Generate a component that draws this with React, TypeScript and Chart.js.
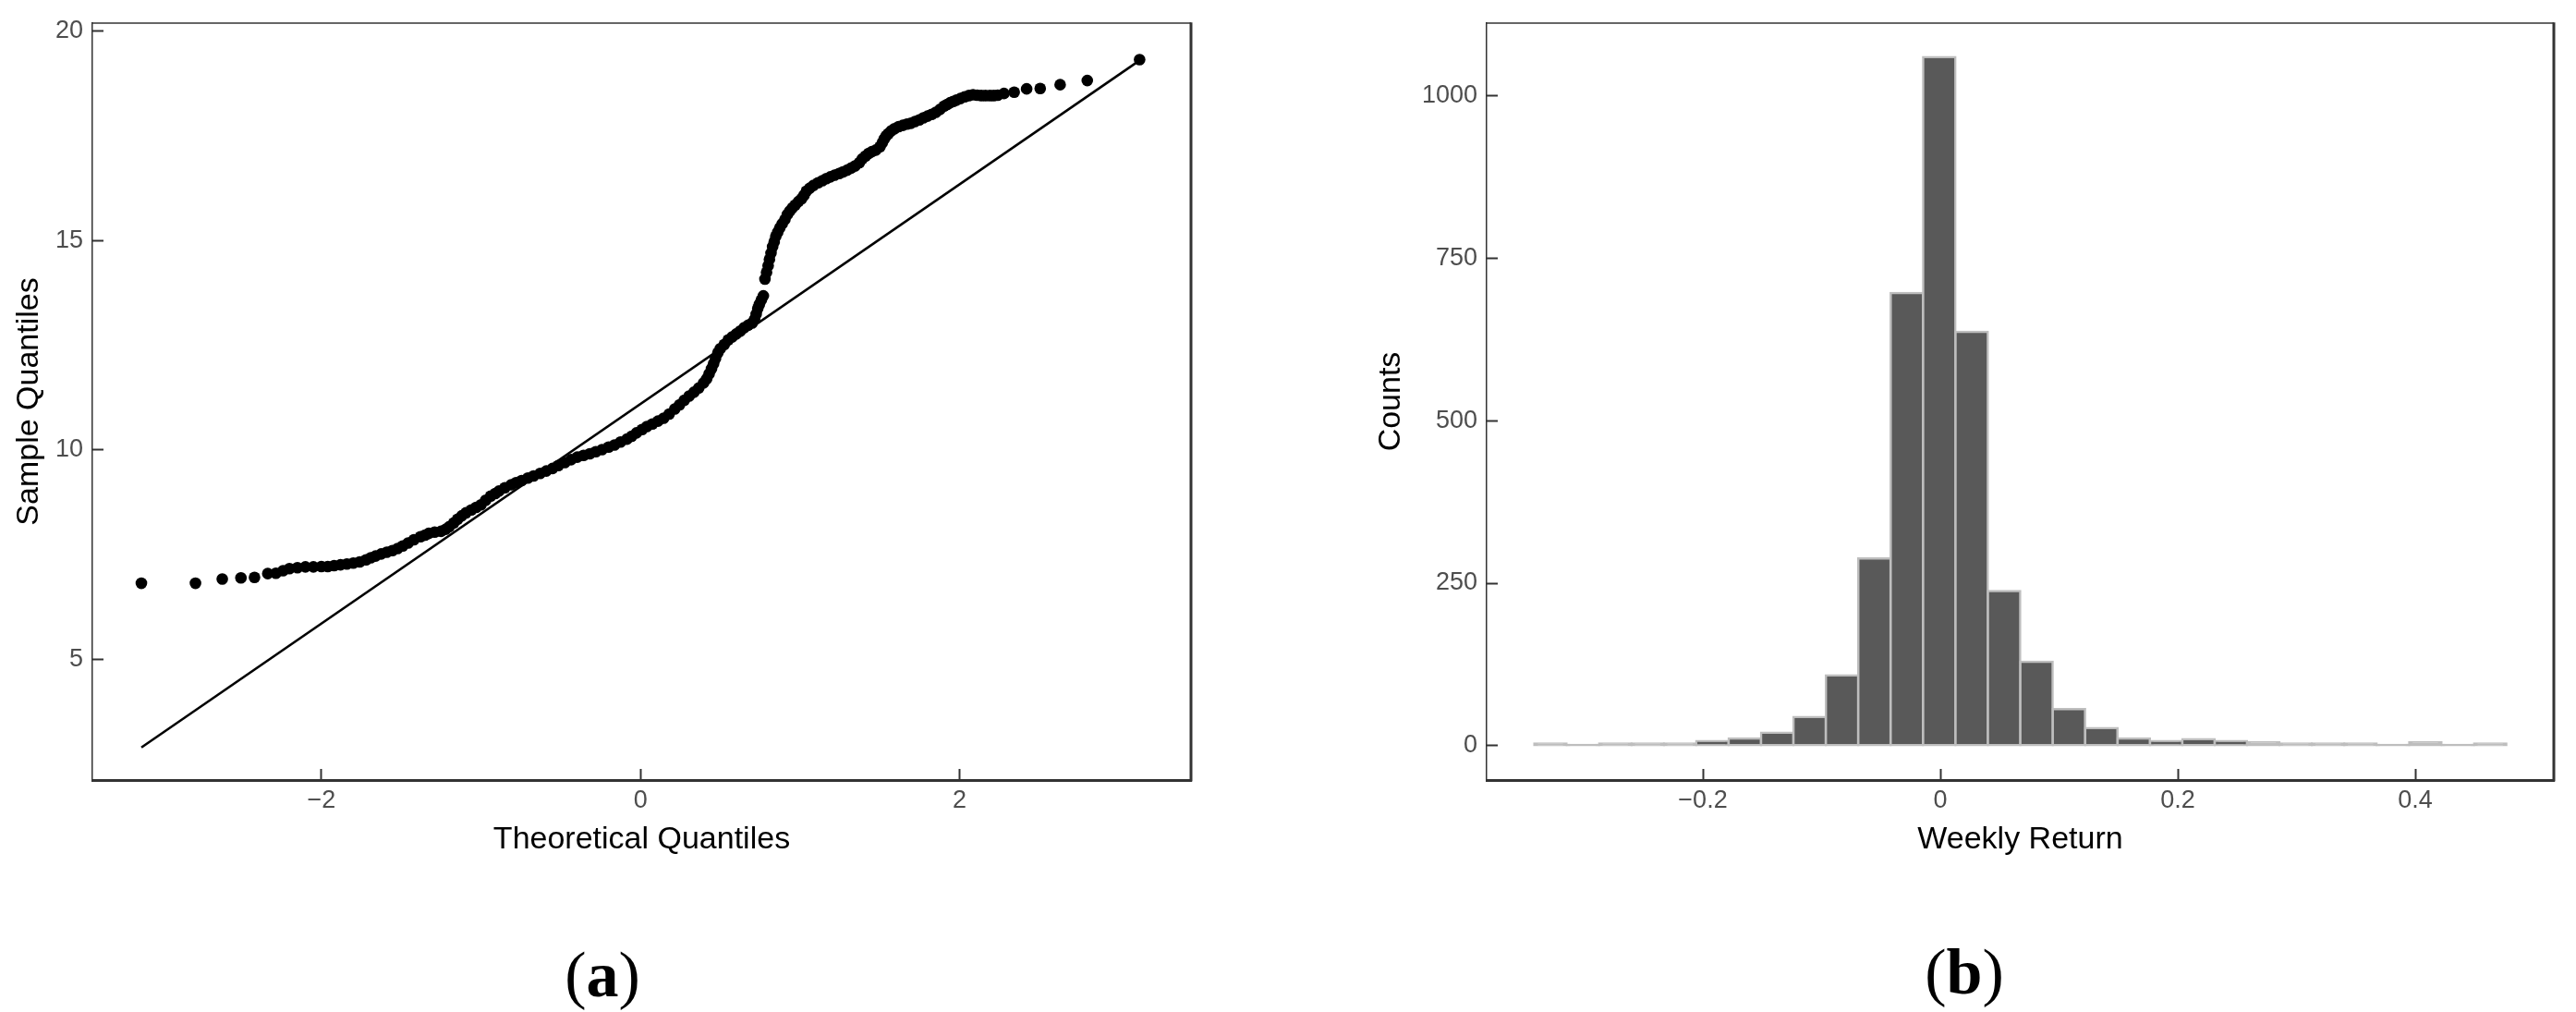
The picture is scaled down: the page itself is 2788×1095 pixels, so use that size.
import React, { useEffect, useRef } from 'react';
import { Chart, registerables } from 'chart.js';

Chart.register(...registerables);

// ---------- (a) Normal Q-Q plot ----------
const theoreticalQuantiles = [
  -3.128, -2.789, -2.621, -2.504, -2.419, -2.336, -2.285, -2.240, -2.200, -2.150,
  -2.100, -2.050, -2.000, -1.960, -1.920, -1.880, -1.840, -1.800, -1.760, -1.720,
  -1.690, -1.660, -1.625, -1.590, -1.555, -1.522, -1.490, -1.456, -1.420, -1.379,
  -1.350, -1.327, -1.290, -1.250, -1.220, -1.198, -1.170, -1.146, -1.120, -1.094,
  -1.060, -1.030, -1.000, -0.970, -0.939, -0.910, -0.887, -0.850, -0.810, -0.780,
  -0.745, -0.706, -0.670, -0.629, -0.590, -0.551, -0.515, -0.474, -0.435, -0.396,
  -0.357, -0.318, -0.280, -0.241, -0.200, -0.163, -0.125, -0.085, -0.055, -0.025,
  0.010, 0.040, 0.075, 0.110, 0.145, 0.180, 0.215, 0.245, 0.275, 0.305,
  0.335, 0.365, 0.395, 0.415, 0.430, 0.445, 0.458, 0.470, 0.485, 0.500,
  0.525, 0.550, 0.575, 0.600, 0.625, 0.650, 0.675, 0.700, 0.715, 0.725,
  0.735, 0.745, 0.757, 0.770, 0.780, 0.790, 0.800, 0.808, 0.818, 0.828,
  0.838, 0.848, 0.860, 0.873, 0.888, 0.905, 0.920, 0.935, 0.952, 0.970,
  0.990, 1.010, 1.025, 1.040, 1.061, 1.085, 1.113, 1.140, 1.165, 1.190,
  1.217, 1.245, 1.269, 1.295, 1.320, 1.345, 1.372, 1.390, 1.411, 1.430,
  1.450, 1.475, 1.501, 1.515, 1.527, 1.540, 1.553, 1.572, 1.592, 1.618,
  1.644, 1.670, 1.695, 1.720, 1.747, 1.773, 1.799, 1.825, 1.851, 1.877,
  1.903, 1.922, 1.941, 1.960, 1.980, 2.005, 2.032, 2.058, 2.084, 2.110,
  2.136, 2.162, 2.190, 2.214, 2.239, 2.278, 2.342, 2.420, 2.505, 2.630,
  2.800, 3.128,
];

const sampleQuantiles = [
  6.82, 6.82, 6.92, 6.95, 6.96, 7.05, 7.06, 7.12, 7.17, 7.19,
  7.21, 7.21, 7.22, 7.22, 7.24, 7.26, 7.28, 7.30, 7.33, 7.38,
  7.43, 7.47, 7.52, 7.56, 7.60, 7.65, 7.71, 7.78, 7.86, 7.93,
  7.97, 8.01, 8.04, 8.06, 8.11, 8.17, 8.26, 8.35, 8.43, 8.50,
  8.57, 8.63, 8.69, 8.80, 8.90, 8.96, 9.02, 9.10, 9.17, 9.22,
  9.27, 9.33, 9.38, 9.44, 9.50, 9.56, 9.63, 9.70, 9.77, 9.83,
  9.87, 9.91, 9.96, 10.01, 10.07, 10.12, 10.19, 10.26, 10.33, 10.41,
  10.49, 10.56, 10.62, 10.69, 10.76, 10.86, 10.98, 11.08, 11.19, 11.29,
  11.38, 11.48, 11.60, 11.70, 11.82, 11.94, 12.06, 12.18, 12.32, 12.42,
  12.52, 12.63, 12.70, 12.77, 12.84, 12.92, 12.98, 13.03, 13.12, 13.24,
  13.38, 13.48, 13.58, 13.68, 14.08, 14.24, 14.40, 14.55, 14.70, 14.85,
  14.97, 15.10, 15.20, 15.30, 15.40, 15.50, 15.62, 15.70, 15.78, 15.85,
  15.93, 16.00, 16.08, 16.18, 16.25, 16.32, 16.38, 16.43, 16.48, 16.52,
  16.56, 16.60, 16.64, 16.68, 16.73, 16.78, 16.86, 16.95, 17.02, 17.08,
  17.12, 17.16, 17.24, 17.33, 17.42, 17.50, 17.55, 17.62, 17.67, 17.72,
  17.75, 17.78, 17.80, 17.84, 17.88, 17.93, 17.97, 18.01, 18.06, 18.13,
  18.21, 18.25, 18.29, 18.32, 18.35, 18.39, 18.43, 18.46, 18.48, 18.47,
  18.46, 18.46, 18.46, 18.46, 18.47, 18.51, 18.54, 18.62, 18.63, 18.72,
  18.82, 19.32,
];

const qqLineX = [-3.128, 3.128];
const qqLineY = [2.9, 19.3];
const qqXTicks = [-2, 0, 2];
const qqYTicks = [5, 10, 15, 20];

// ---------- (b) Histogram of weekly returns ----------
const binCenters = [
  -0.3284, -0.3011, -0.2738, -0.2465, -0.2192, -0.192, -0.1647, -0.1374, -0.1101, -0.0828,
  -0.0555, -0.0282, -0.0009, 0.0264, 0.0537, 0.081, 0.1083, 0.1356, 0.1629, 0.1902,
  0.2174, 0.2447, 0.272, 0.2993, 0.3266, 0.3539, 0.3812, 0.4085, 0.4358, 0.4631,
];
const binCounts = [
  3, 1, 3, 3, 3, 7, 11, 20, 44, 108,
  288, 697, 1060, 637, 238, 129, 56, 27, 11, 7,
  10, 7, 5, 3, 3, 3, 1, 5, 1, 3,
];
const histXTicks = [-0.2, 0, 0.2, 0.4];
const histYTicks = [0, 250, 500, 750, 1000];

// ---------- styling helpers ----------
const FONT = "'Liberation Sans', Arial, Helvetica, sans-serif";
const fmt = (v: number) => (v < 0 ? '\u2212' : '') + String(Math.abs(v));

const boxPlugin = {
  id: 'panelBox',
  afterDraw(chart: any) {
    const { ctx, chartArea: a } = chart;
    ctx.save();
    ctx.strokeStyle = '#333333';
    ctx.lineWidth = 1.5;
    ctx.beginPath();
    ctx.moveTo(a.left - 0.75, a.top);
    ctx.lineTo(a.right, a.top);
    ctx.stroke();
    ctx.lineWidth = 3;
    ctx.beginPath();
    ctx.moveTo(a.right, a.top - 0.75);
    ctx.lineTo(a.right, a.bottom + 1.5);
    ctx.stroke();
    ctx.restore();
  },
};

function xAxis(min: number, max: number, ticks: number[], title: string) {
  return {
    type: 'linear',
    position: 'bottom',
    min,
    max,
    offset: false,
    grid: {
      display: true,
      drawOnChartArea: false,
      drawTicks: true,
      tickLength: -12,
      tickColor: '#333333',
      tickWidth: 2,
      offset: false,
    },
    border: { display: true, color: '#333333', width: 3 },
    ticks: {
      padding: 18.3,
      color: '#4d4d4d',
      font: { family: FONT, size: 27 },
      maxRotation: 0,
      autoSkip: false,
      callback: (v: any) => fmt(Number(v)),
    },
    title: {
      display: true,
      text: title,
      color: '#000000',
      font: { family: FONT, size: 34 },
      padding: { top: 0, bottom: 31 },
    },
    afterBuildTicks: (s: any) => {
      s.ticks = ticks.map((value) => ({ value }));
    },
    afterFit: (s: any) => {
      s.height = 116;
      s.paddingLeft = 0;
      s.paddingRight = 0;
    },
  };
}

function yAxis(min: number, max: number, ticks: number[], title: string, width: number, titlePad: number) {
  return {
    type: 'linear',
    position: 'left',
    min,
    max,
    grid: {
      display: true,
      drawOnChartArea: false,
      drawTicks: true,
      tickLength: -12,
      tickColor: '#333333',
      tickWidth: 2,
    },
    border: { display: true, color: '#333333', width: 1.5 },
    ticks: {
      padding: 22,
      color: '#4d4d4d',
      font: { family: FONT, size: 27 },
      autoSkip: false,
      callback: (v: any) => fmt(Number(v)),
    },
    title: {
      display: true,
      text: title,
      color: '#000000',
      font: { family: FONT, size: 34 },
      padding: { top: titlePad, bottom: 0 },
    },
    afterBuildTicks: (s: any) => {
      s.ticks = ticks.map((value) => ({ value }));
    },
    afterFit: (s: any) => {
      s.width = width;
      s.paddingTop = 0;
      s.paddingBottom = 0;
    },
  };
}

export default function App() {
  const qqRef = useRef<HTMLCanvasElement>(null);
  const histRef = useRef<HTMLCanvasElement>(null);

  useEffect(() => {
    const n = Math.min(theoreticalQuantiles.length, sampleQuantiles.length);
    const qqPoints = [];
    for (let i = 0; i < n; i++) qqPoints.push({ x: theoreticalQuantiles[i], y: sampleQuantiles[i] });
    const linePoints = qqLineX.map((x, i) => ({ x, y: qqLineY[i] }));

    const qq = new Chart(qqRef.current as HTMLCanvasElement, {
      type: 'scatter',
      data: {
        datasets: [
          {
            type: 'line',
            data: linePoints,
            borderColor: '#000000',
            borderWidth: 2.6,
            pointRadius: 0,
            showLine: true,
            fill: false,
            order: 0,
          } as any,
          {
            type: 'scatter',
            data: qqPoints,
            backgroundColor: '#000000',
            borderWidth: 0,
            pointRadius: 6.3,
            pointHoverRadius: 6.3,
            order: 1,
          } as any,
        ],
      },
      options: {
        animation: false,
        responsive: false,
        devicePixelRatio: 1,
        events: [],
        layout: { padding: { left: 0, top: 25, right: 51, bottom: 0 } },
        plugins: { legend: { display: false }, tooltip: { enabled: false } },
        scales: {
          x: xAxis(-3.435, 3.45, qqXTicks, 'Theoretical Quantiles'),
          y: yAxis(2.123, 20.19, qqYTicks, 'Sample Quantiles', 100, 10.8),
        } as any,
      },
      plugins: [boxPlugin],
    } as any);

    const histData = binCenters.map((x, i) => ({ x, y: binCounts[i] }));
    const hist = new Chart(histRef.current as HTMLCanvasElement, {
      type: 'bar',
      data: {
        datasets: [
          {
            data: histData,
            backgroundColor: (c: any) => (c.raw && c.raw.y < 6 ? '#bebebe' : '#595959'),
            borderColor: '#bebebe',
            borderWidth: 2.5,
            borderSkipped: false,
            inflateAmount: 1.25,
            barPercentage: 1,
            categoryPercentage: 1,
            grouped: false,
          } as any,
        ],
      },
      options: {
        animation: false,
        responsive: false,
        devicePixelRatio: 1,
        events: [],
        layout: { padding: { left: 0, top: 25, right: 24, bottom: 0 } },
        plugins: { legend: { display: false }, tooltip: { enabled: false } },
        scales: {
          x: xAxis(-0.3821, 0.5167, histXTicks, 'Weekly Return'),
          y: yAxis(-53.1, 1112.4, histYTicks, 'Counts', 169, 45.6),
        } as any,
      },
      plugins: [boxPlugin],
    } as any);

    return () => {
      qq.destroy();
      hist.destroy();
    };
  }, []);

  const capStyle: React.CSSProperties = {
    position: 'absolute',
    width: 200,
    textAlign: 'center',
    fontFamily: "'Liberation Serif', 'Times New Roman', serif",
    fontSize: 70,
    lineHeight: '70px',
    color: '#000',
  };

  return (
    <div
      style={{
        position: 'fixed',
        left: 0,
        top: 0,
        width: 2788,
        height: 1095,
        background: '#ffffff',
        overflow: 'hidden',
      }}
    >
      <canvas
        ref={qqRef}
        width={1340}
        height={960}
        style={{ position: 'absolute', left: 0, top: 0, width: 1340, height: 960 }}
      />
      <canvas
        ref={histRef}
        width={1348}
        height={960}
        style={{ position: 'absolute', left: 1440, top: 0, width: 1348, height: 960 }}
      />
      <div style={{ ...capStyle, left: 552, top: 1020 }}>
        (<b>a</b>)
      </div>
      <div style={{ ...capStyle, left: 2026, top: 1017 }}>
        (<b>b</b>)
      </div>
    </div>
  );
}
